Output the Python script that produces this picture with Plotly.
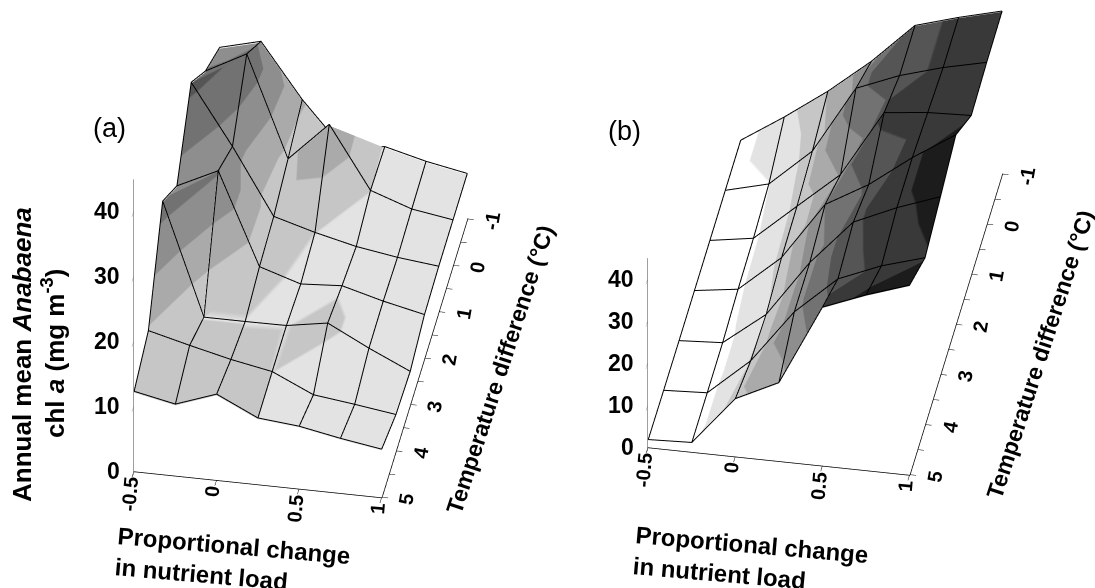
import math
import plotly.graph_objects as go

load_change = [-0.5, -0.25, 0, 0.25, 0.5, 0.75, 1]
temp_diff = [5, 4, 3, 2, 1, 0, -1]

chl_a = [
    [12.1, 10.8, 13.0, 10.0, 9.4, 8.2, 7.2],
    [14.3, 12.7, 11.2, 10.0, 7.1, 6.3, 5.4],
    [27.1, 9.9, 9.9, 9.95, 11.0, 7.8, 4.9],
    [22.3, 25.3, 11.2, 9.2, 9.6, 7.9, 6.5],
    [31.1, 21.9, 11.8, 10.0, 8.5, 7.5, 6.8],
    [25.7, 29.0, 13.5, 19.5, 10.0, 7.8, 6.8],
    [22.2, 23.8, 15.5, 8.6, 9.6, 8.0, 6.8],
]
chl_b = [
    [1.6, 2.0, 13.5, 18.4, 37.4, 41.4, 44.8],
    [1.4, 1.9, 10.6, 23.3, 32.2, 36.4, 39.4],
    [1.3, 1.9, 9.7, 23.1, 33.8, 38.3, 42.0],
    [1.3, 2.7, 11.3, 25.0, 30.8, 38.3, 44.8],
    [1.3, 2.9, 11.6, 20.2, 36.0, 37.1, 37.5],
    [1.3, 3.9, 12.8, 28.8, 32.9, 35.9, 38.2],
    [1.3, 7.9, 15.1, 23.3, 32.9, 35.9, 38.5],
]

band_edges = [0, 4, 10, 15, 20, 25, 30, 35, 40, 45]
band_colors = ["#ffffff", "#e3e3e3", "#c6c6c6", "#aaaaaa", "#8e8e8e",
               "#727272", "#555555", "#393939", "#1c1c1c"]
colorscale = []
for i, c in enumerate(band_colors):
    colorscale.append([band_edges[i] / 45, c])
    colorscale.append([band_edges[i + 1] / 45, c])

x_ticks = [-0.5, 0, 0.5, 1]
x_labels = ["-0.5", "0", "0.5", "1"]
y_ticks = [5, 4.5, 4, 3.5, 3, 2.5, 2, 1.5, 1, 0.5, 0, -0.5, -1]
y_labels = ["5", "", "4", "", "3", "", "2", "", "1", "", "0", "", "-1"]
z_ticks = [0, 10, 20, 30, 40]
z_labels = ["0", "10", "20", "30", "40"]

nx, ny = len(load_change), len(temp_diff)
lift = 0.2


def traces(z, scene):
    vx, vy, vz, ii, jj, kk = [], [], [], [], [], []
    for r in range(ny):
        for c in range(nx):
            vx.append(load_change[c])
            vy.append(temp_diff[r])
            vz.append(z[r][c])
    for r in range(ny - 1):
        for c in range(nx - 1):
            a = r * nx + c
            b = a + 1
            d = a + nx
            e = d + 1
            ii += [a, a]
            jj += [b, e]
            kk += [e, d]
    mesh = go.Mesh3d(
        x=vx, y=vy, z=vz, i=ii, j=jj, k=kk, intensity=vz, intensitymode="vertex",
        scene=scene, cmin=0, cmax=45, colorscale=colorscale, showscale=False,
        lighting=dict(ambient=1, diffuse=0, specular=0, roughness=1, fresnel=0),
        flatshading=False, hoverinfo="skip",
    )
    lx, ly, lz = [], [], []
    for r in range(ny):
        for c in range(nx):
            lx.append(load_change[c]); ly.append(temp_diff[r]); lz.append(z[r][c] + lift)
        lx.append(None); ly.append(None); lz.append(None)
    for c in range(nx):
        for r in range(ny):
            lx.append(load_change[c]); ly.append(temp_diff[r]); lz.append(z[r][c] + lift)
        lx.append(None); ly.append(None); lz.append(None)
    wire = go.Scatter3d(x=lx, y=ly, z=lz, mode="lines", scene=scene,
                        line=dict(color="black", width=2), hoverinfo="skip", showlegend=False)
    return [mesh, wire]


def axis(vals, rng, ticklen, col="black"):
    return dict(
        range=rng, tickmode="array", tickvals=vals, showticklabels=False, title=dict(text=""),
        showgrid=False, zeroline=False, showbackground=False, showline=True,
        linecolor=col, linewidth=1.5, ticks="outside", ticklen=ticklen, tickwidth=1, tickcolor="black",
        showspikes=False,
    )


def tick_notes():
    bold = lambda s: f"<b>{s}</b>"
    small = dict(family="Liberation Sans", size=20, color="black")
    large = dict(family="Liberation Sans", size=23, color="black")
    out = []
    for v, s in zip(x_ticks, x_labels):
        out.append(dict(x=v, y=5, z=0, text=bold(s), showarrow=False, textangle=-85, font=small,
                        xanchor="center", yanchor="top", xshift=-4, yshift=-3))
    for v, s in zip(y_ticks, y_labels):
        if s:
            out.append(dict(x=1, y=v, z=0, text=bold(s), showarrow=False, textangle=-80, font=small,
                            xanchor="center", yanchor="middle", xshift=25, yshift=-2))
    for v, s in zip(z_ticks, z_labels):
        out.append(dict(x=-0.5, y=5, z=v, text=bold(s), showarrow=False, font=large,
                        xanchor="right", yanchor="middle", xshift=-12))
    return out


def scene(domx, theta, phi, asp, shift):
    th, ph = math.radians(theta), math.radians(phi)
    ex, ey, ez = math.sin(th) * math.cos(ph), -math.cos(th) * math.cos(ph), math.sin(ph)
    rx, ry = math.cos(th), math.sin(th)
    ux, uy, uz = -math.sin(ph) * math.sin(th), math.sin(ph) * math.cos(th), math.cos(ph)
    px_per_unit = 294.4
    dist = 2.286
    sx, sy = shift
    cx = -(sx * rx + sy * ux) / px_per_unit
    cy = -(sx * ry + sy * uy) / px_per_unit
    cz = -(sy * uz) / px_per_unit
    return dict(
        domain=dict(x=domx, y=[0, 1]),
        xaxis=axis(x_ticks, [-0.503, 1.003], 6),
        yaxis=axis(y_ticks, [5.012, -1.012], 9),
        zaxis=axis(z_ticks, [0, 45], 9, "#808080"),
        aspectmode="manual",
        aspectratio=dict(x=asp[0], y=asp[1], z=asp[2]),
        annotations=tick_notes(),
        camera=dict(
            projection=dict(type="orthographic"),
            up=dict(x=0, y=0, z=1),
            center=dict(x=cx, y=cy, z=cz),
            eye=dict(x=cx + dist * ex, y=cy + dist * ey, z=cz + dist * ez),
        ),
    )


fig = go.Figure(traces(chl_a, "scene") + traces(chl_b, "scene2"))


def note(text, x, y, size, angle=0, bold=True, align="center"):
    body = f"<b>{text}</b>" if bold else text
    fig.add_annotation(text=body, x=x / 1095, y=1 - y / 588, xref="paper", yref="paper",
                       showarrow=False, textangle=angle, xanchor="center", yanchor="middle", align=align,
                       font=dict(family="Liberation Sans", size=size, color="black"))


note("(a)", 109, 128, 27, bold=False)
note("(b)", 624, 131, 27, bold=False)
note("Annual mean <i>Anabaena</i>", 22, 355, 26, -90)
note("chl <i>a</i> (mg m<sup>-3</sup>)", 53, 354, 26, -90)
note("Temperature difference (°C)", 499.5, 369.5, 23, -72)
note("Temperature difference (°C)", 1040, 355, 23, -72)
note("Proportional change<br>in nutrient load", 232, 561, 24, 5, align="left")
note("Proportional change<br>in nutrient load", 750, 560, 24, 5, align="left")

fig.update_layout(
    width=1095, height=588, margin=dict(l=0, r=0, t=0, b=0),
    paper_bgcolor="white", showlegend=False,
    scene=scene([0, 0.5], 10.2, 35.8, (0.859, 1.651, 1.226), (26.75, 95.25)),
    scene2=scene([0.47, 1], 10.2, 35.8, (0.907, 1.783, 0.795), (20.2, 78.3)),
)
fig.write_html("out.html", config={"displayModeBar": False}, post_script="document.body.style.margin='0';")
